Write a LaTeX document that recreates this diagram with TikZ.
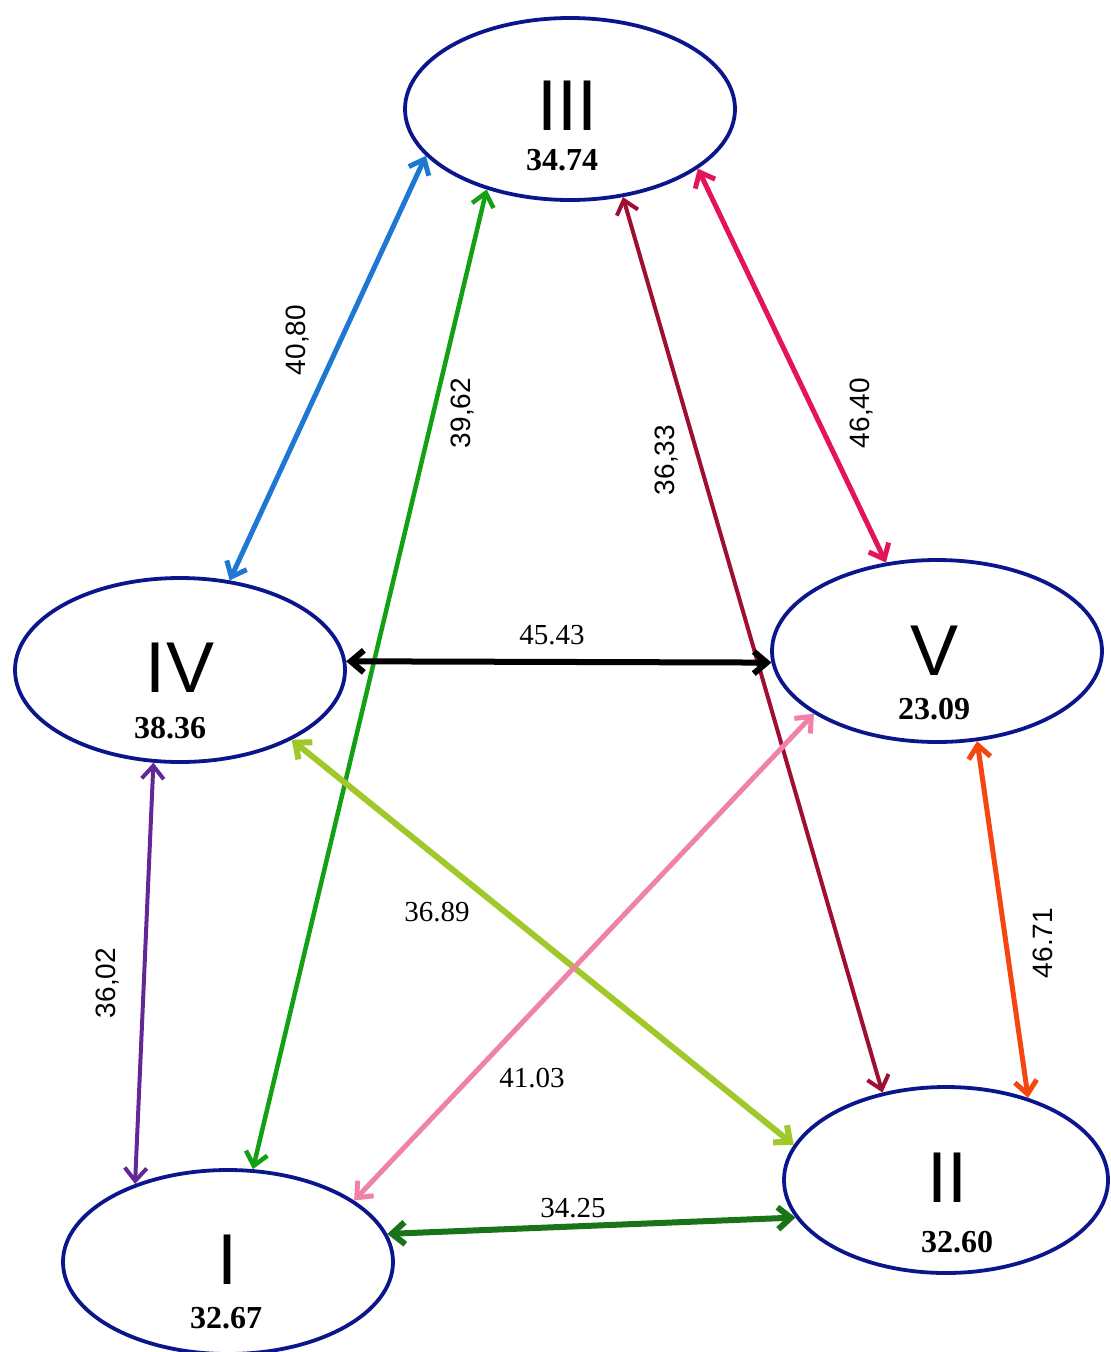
\documentclass[tikz,border=0pt]{standalone}
\usepackage{fontspec}
\setmainfont{Liberation Serif}
\setsansfont{Liberation Sans}
\usetikzlibrary{shapes.geometric,arrows.meta}
\definecolor{ellblue}{RGB}{12,22,140}
\definecolor{cblue}{RGB}{30,120,210}
\definecolor{cgreen}{RGB}{20,160,20}
\definecolor{cdred}{RGB}{160,15,50}
\definecolor{cpink}{RGB}{228,20,92}
\definecolor{cpurple}{RGB}{100,40,150}
\definecolor{cygreen}{RGB}{160,200,40}
\definecolor{clpink}{RGB}{240,130,170}
\definecolor{corange}{RGB}{245,70,15}
\definecolor{cdgreen}{RGB}{25,115,25}
\begin{document}
\begin{tikzpicture}[x=1pt,y=-1pt,
  ell/.style={ellipse, draw=ellblue, line width=3.8pt, inner sep=0pt},
  numeral/.style={font=\sffamily\fontsize{72}{72}\selectfont, inner sep=0pt},
  val/.style={font=\bfseries\fontsize{32}{32}\selectfont, inner sep=0pt},
  elab/.style={font=\fontsize{29}{29}\selectfont, inner sep=0pt},
  vlab/.style={font=\sffamily\fontsize{28}{28}\selectfont, inner sep=0pt, rotate=90},
  link/.style={{Straight Barb[length=13pt,width=22pt]}-{Straight Barb[length=13pt,width=22pt]}}
]
\fill[white] (0,0) rectangle (1111,1352);
\useasboundingbox (0,0) rectangle (1111,1352);

% ellipses
\node[ell, minimum width=330pt, minimum height=182pt] (III) at (570,109) {};
\node[ell, minimum width=330pt, minimum height=184pt] (IV) at (180,670) {};
\node[ell, minimum width=330pt, minimum height=182pt] (V) at (937,651) {};
\node[ell, minimum width=324pt, minimum height=186pt] (II) at (946,1180) {};
\node[ell, minimum width=330pt, minimum height=184pt] (I) at (228,1262) {};

% node texts
\node[numeral] (IIIn) at (567,106) {III};
\node[val] (IIIv) at (562,160) {34.74};
\node[numeral] (IVn) at (180,668) {IV};
\node[val] (IVv) at (170,728) {38.36};
\node[numeral] (Vn) at (935,651) {V};
\node[val] (Vv) at (934,709) {23.09};
\node[numeral] (IIn) at (947,1178) {II};
\node[val] (IIv) at (957,1242) {32.60};
\node[numeral] (In) at (227,1260) {I};
\node[val] (Iv) at (226,1318) {32.67};

% connectors
\draw[link, cblue, line width=5pt] (IV.61) -- (III.198);
\draw[link, cgreen, line width=4.5pt] (I.75) -- (III.224);
\draw[link, cdred, line width=4pt] (II.126) -- (III.301);
\draw[link, cpink, line width=5pt] (V.120) -- (III.335);
\draw[link, black, line width=6pt] (IV.3) -- (V.184);
\draw[link, cpurple, line width=4pt] (I.140) -- (IV.254);
\draw[link, cygreen, line width=6pt] (IV.328) -- (II.167);
\draw[link, clpink, line width=5pt] (I.26) -- (V.207);
\draw[link, corange, line width=5pt] (II.45) -- (V.294);
\draw[link, cdgreen, line width=6pt] (I.10) -- (II.194);

% connector labels
\node[vlab] (l1) at (298,340) {40,80};
\node[vlab] (l2) at (463,413) {39,62};
\node[vlab] (l3) at (667,460) {36,33};
\node[vlab] (l4) at (862,413) {46,40};
\node[vlab] (l5) at (108,983) {36,02};
\node[vlab] (l6) at (1043,943) {46.71};
\node[elab] (l7) at (552,635) {45.43};
\node[elab] (l8) at (437,912) {36.89};
\node[elab] (l9) at (532,1078) {41.03};
\node[elab] (l10) at (573,1208) {34.25};
\end{tikzpicture}
\end{document}
